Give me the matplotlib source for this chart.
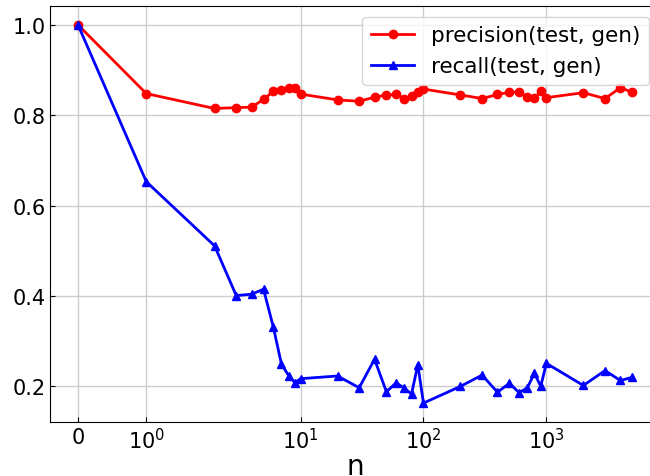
import matplotlib
matplotlib.use("Agg")
import matplotlib.pyplot as plt

n_values = [0, 1, 2, 3, 4, 5, 6, 7, 8, 9, 10,
            20, 30, 40, 50, 60, 70, 80, 90, 100,
            200, 300, 400, 500, 600, 700, 800, 900, 1000,
            2000, 3000, 4000, 5000]

precision = [1.0, 0.848, 0.815, 0.817, 0.818, 0.835, 0.853, 0.856, 0.861, 0.860, 0.847,
             0.834, 0.831, 0.840, 0.845, 0.846, 0.837, 0.843, 0.852, 0.858,
             0.845, 0.837, 0.846, 0.851, 0.851, 0.840, 0.838, 0.853, 0.839,
             0.850, 0.837, 0.861, 0.851]

recall = [1.0, 0.653, 0.511, 0.401, 0.404, 0.415, 0.332, 0.249, 0.224, 0.208, 0.217,
          0.223, 0.197, 0.260, 0.188, 0.208, 0.196, 0.183, 0.248, 0.163,
          0.200, 0.225, 0.187, 0.207, 0.186, 0.197, 0.229, 0.200, 0.251,
          0.202, 0.235, 0.213, 0.220]

fig = plt.figure(figsize=(6.5, 4.77), dpi=100)
ax = fig.add_axes([50.3 / 650, 54 / 477, 609.7 / 650, 416 / 477])

ax.plot(n_values, precision, color="red", marker="o", markersize=6, linewidth=2,
        label="precision(test, gen)")
ax.plot(n_values, recall, color="blue", marker="^", markersize=6, linewidth=2,
        label="recall(test, gen)")

ax.set_xscale("symlog", linthresh=2)
ax.set_xticks([0, 1, 10, 100, 1000])
ax.set_xticklabels(["0", r"$10^0$", r"$10^1$", r"$10^2$", r"$10^3$"])
ax.set_yticks([0.2, 0.4, 0.6, 0.8, 1.0])
ax.minorticks_off()
ax.tick_params(direction="in", labelsize=15)
ax.grid(True, color="#cccccc", linewidth=1)
ax.set_axisbelow(True)
ax.set_xlabel("n", fontsize=20, labelpad=0)
ax.legend(loc="upper right", fontsize=15.5)

fig.savefig("out.png", dpi=100)
